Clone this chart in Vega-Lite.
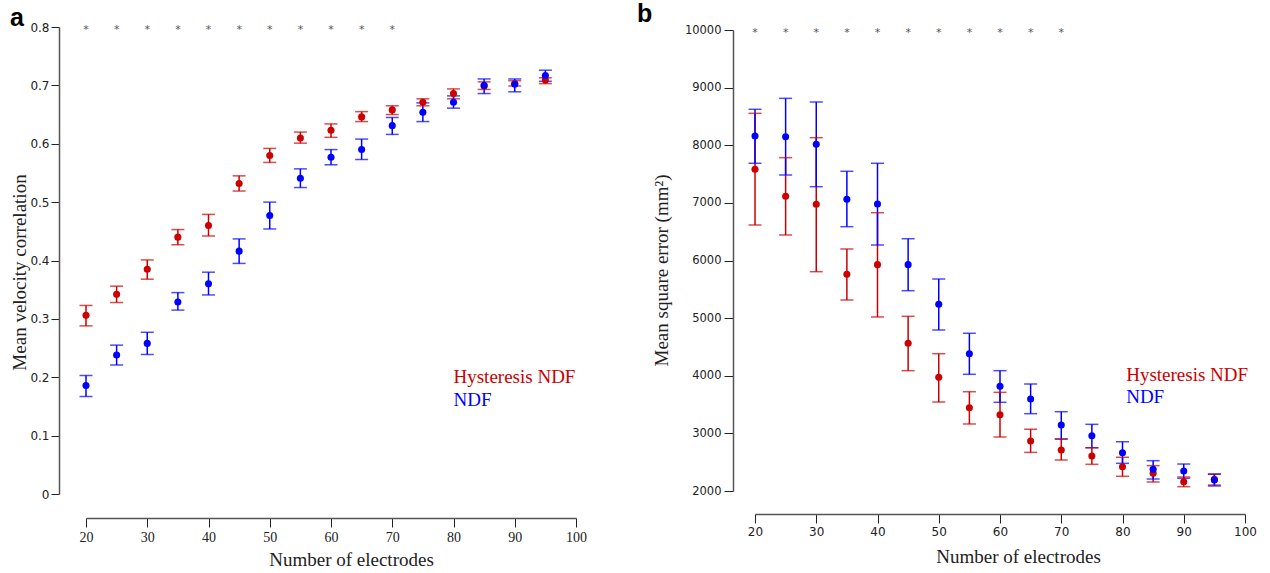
{
  "$schema": "https://vega.github.io/schema/vega-lite/v6.json",
  "padding": {"left": 10, "top": 2, "right": 5, "bottom": 0},
  "background": "white",
  "bounds": "flush",
  "spacing": 179,
  "config": {
    "view": {"stroke": null},
    "axis": {"grid": false, "domainColor": "#555", "domainWidth": 1.5, "tickColor": "#222", "tickWidth": 1, "labelColor": "#222", "titleColor": "#222", "titleFontWeight": "normal"}
  },
  "datasets": {
    "a": [
      {"n": 20, "model": "Hysteresis NDF", "m": 0.306, "lo": 0.288, "hi": 0.323},
      {"n": 25, "model": "Hysteresis NDF", "m": 0.342, "lo": 0.328, "hi": 0.356},
      {"n": 30, "model": "Hysteresis NDF", "m": 0.385, "lo": 0.368, "hi": 0.401},
      {"n": 35, "model": "Hysteresis NDF", "m": 0.440, "lo": 0.427, "hi": 0.453},
      {"n": 40, "model": "Hysteresis NDF", "m": 0.460, "lo": 0.442, "hi": 0.479},
      {"n": 45, "model": "Hysteresis NDF", "m": 0.532, "lo": 0.519, "hi": 0.545},
      {"n": 50, "model": "Hysteresis NDF", "m": 0.580, "lo": 0.568, "hi": 0.592},
      {"n": 55, "model": "Hysteresis NDF", "m": 0.610, "lo": 0.601, "hi": 0.620},
      {"n": 60, "model": "Hysteresis NDF", "m": 0.623, "lo": 0.611, "hi": 0.634},
      {"n": 65, "model": "Hysteresis NDF", "m": 0.646, "lo": 0.638, "hi": 0.655},
      {"n": 70, "model": "Hysteresis NDF", "m": 0.658, "lo": 0.650, "hi": 0.665},
      {"n": 75, "model": "Hysteresis NDF", "m": 0.671, "lo": 0.665, "hi": 0.677},
      {"n": 80, "model": "Hysteresis NDF", "m": 0.686, "lo": 0.677, "hi": 0.694},
      {"n": 85, "model": "Hysteresis NDF", "m": 0.699, "lo": 0.693, "hi": 0.706},
      {"n": 90, "model": "Hysteresis NDF", "m": 0.703, "lo": 0.699, "hi": 0.708},
      {"n": 95, "model": "Hysteresis NDF", "m": 0.709, "lo": 0.703, "hi": 0.713},
      {"n": 20, "model": "NDF", "m": 0.186, "lo": 0.167, "hi": 0.203},
      {"n": 25, "model": "NDF", "m": 0.238, "lo": 0.221, "hi": 0.255},
      {"n": 30, "model": "NDF", "m": 0.258, "lo": 0.239, "hi": 0.277},
      {"n": 35, "model": "NDF", "m": 0.329, "lo": 0.315, "hi": 0.345},
      {"n": 40, "model": "NDF", "m": 0.360, "lo": 0.341, "hi": 0.380},
      {"n": 45, "model": "NDF", "m": 0.416, "lo": 0.395, "hi": 0.437},
      {"n": 50, "model": "NDF", "m": 0.477, "lo": 0.454, "hi": 0.500},
      {"n": 55, "model": "NDF", "m": 0.541, "lo": 0.525, "hi": 0.557},
      {"n": 60, "model": "NDF", "m": 0.577, "lo": 0.564, "hi": 0.590},
      {"n": 65, "model": "NDF", "m": 0.590, "lo": 0.573, "hi": 0.608},
      {"n": 70, "model": "NDF", "m": 0.631, "lo": 0.616, "hi": 0.645},
      {"n": 75, "model": "NDF", "m": 0.654, "lo": 0.638, "hi": 0.670},
      {"n": 80, "model": "NDF", "m": 0.671, "lo": 0.661, "hi": 0.682},
      {"n": 85, "model": "NDF", "m": 0.700, "lo": 0.686, "hi": 0.711},
      {"n": 90, "model": "NDF", "m": 0.702, "lo": 0.689, "hi": 0.711},
      {"n": 95, "model": "NDF", "m": 0.717, "lo": 0.707, "hi": 0.726}
    ],
    "b": [
      {"n": 20, "model": "Hysteresis NDF", "m": 7582, "lo": 6616, "hi": 8554},
      {"n": 25, "model": "Hysteresis NDF", "m": 7114, "lo": 6443, "hi": 7785},
      {"n": 30, "model": "Hysteresis NDF", "m": 6975, "lo": 5806, "hi": 8131},
      {"n": 35, "model": "Hysteresis NDF", "m": 5760, "lo": 5315, "hi": 6200},
      {"n": 40, "model": "Hysteresis NDF", "m": 5928, "lo": 5020, "hi": 6830},
      {"n": 45, "model": "Hysteresis NDF", "m": 4563, "lo": 4088, "hi": 5031},
      {"n": 50, "model": "Hysteresis NDF", "m": 3973, "lo": 3544, "hi": 4383},
      {"n": 55, "model": "Hysteresis NDF", "m": 3446, "lo": 3163, "hi": 3723},
      {"n": 60, "model": "Hysteresis NDF", "m": 3324, "lo": 2937, "hi": 3712},
      {"n": 65, "model": "Hysteresis NDF", "m": 2868, "lo": 2670, "hi": 3072},
      {"n": 70, "model": "Hysteresis NDF", "m": 2711, "lo": 2538, "hi": 2902},
      {"n": 75, "model": "Hysteresis NDF", "m": 2607, "lo": 2463, "hi": 2751},
      {"n": 80, "model": "Hysteresis NDF", "m": 2422, "lo": 2255, "hi": 2585},
      {"n": 85, "model": "Hysteresis NDF", "m": 2307, "lo": 2156, "hi": 2440},
      {"n": 90, "model": "Hysteresis NDF", "m": 2161, "lo": 2075, "hi": 2243},
      {"n": 95, "model": "Hysteresis NDF", "m": 2203, "lo": 2104, "hi": 2290},
      {"n": 20, "model": "NDF", "m": 8160, "lo": 7687, "hi": 8624},
      {"n": 25, "model": "NDF", "m": 8149, "lo": 7484, "hi": 8814},
      {"n": 30, "model": "NDF", "m": 8016, "lo": 7281, "hi": 8751},
      {"n": 35, "model": "NDF", "m": 7062, "lo": 6587, "hi": 7548},
      {"n": 40, "model": "NDF", "m": 6980, "lo": 6269, "hi": 7687},
      {"n": 45, "model": "NDF", "m": 5928, "lo": 5476, "hi": 6378},
      {"n": 50, "model": "NDF", "m": 5240, "lo": 4794, "hi": 5679},
      {"n": 55, "model": "NDF", "m": 4383, "lo": 4025, "hi": 4737},
      {"n": 60, "model": "NDF", "m": 3817, "lo": 3539, "hi": 4088},
      {"n": 65, "model": "NDF", "m": 3597, "lo": 3342, "hi": 3857},
      {"n": 70, "model": "NDF", "m": 3145, "lo": 2902, "hi": 3376},
      {"n": 75, "model": "NDF", "m": 2960, "lo": 2751, "hi": 3157},
      {"n": 80, "model": "NDF", "m": 2665, "lo": 2480, "hi": 2855},
      {"n": 85, "model": "NDF", "m": 2376, "lo": 2208, "hi": 2526},
      {"n": 90, "model": "NDF", "m": 2347, "lo": 2220, "hi": 2468},
      {"n": 95, "model": "NDF", "m": 2191, "lo": 2087, "hi": 2295}
    ],
    "stars": [
      {"n": 20}, {"n": 25}, {"n": 30}, {"n": 35}, {"n": 40}, {"n": 45},
      {"n": 50}, {"n": 55}, {"n": 60}, {"n": 65}, {"n": 70}
    ],
    "legend": [
      {"label": "Hysteresis NDF"}
    ],
    "legend2": [
      {"label": "NDF"}
    ]
  },
  "hconcat": [
    {
      "width": 490,
      "height": 467,
      "title": {"text": "a", "anchor": "start", "frame": "group", "font": "Liberation Sans", "fontSize": 25, "fontWeight": "bold", "color": "#000", "dx": -76, "offset": -30, "baseline": "alphabetic"},
      "layer": [
        {
          "data": {"name": "a"},
          "mark": {"type": "rule", "strokeWidth": 1.5},
          "encoding": {
            "x": {"field": "n", "type": "quantitative",
              "scale": {"domain": [20, 100], "nice": false, "zero": false},
              "axis": {"values": [20, 30, 40, 50, 60, 70, 80, 90, 100], "offset": 24, "tickSize": 9, "labelPadding": 3, "labelFlush": false,
                "labelFont": "Liberation Serif", "labelFontSize": 14,
                "title": "Number of electrodes", "titleFont": "Liberation Serif", "titleFontSize": 19, "titleX": 265, "titlePadding": 6}},
            "y": {"field": "lo", "type": "quantitative",
              "scale": {"domain": [0, 0.8], "nice": false, "zero": false},
              "axis": {"values": [0, 0.1, 0.2, 0.3, 0.4, 0.5, 0.6, 0.7, 0.8], "format": "~g", "offset": 27, "tickSize": 8, "labelPadding": 2, "labelFlush": false,
                "labelFont": "DejaVu Sans", "labelFontSize": 12,
                "title": "Mean velocity correlation", "titleFont": "Liberation Serif", "titleFontSize": 19, "titleY": 245, "titlePadding": 0}},
            "y2": {"field": "hi"},
            "color": {"field": "model", "type": "nominal", "scale": {"domain": ["Hysteresis NDF", "NDF"], "range": ["#cc0000", "#0000ff"]}, "legend": null}
          }
        },
        {
          "data": {"name": "a"},
          "mark": {"type": "tick", "orient": "horizontal", "size": 13, "thickness": 1.5},
          "encoding": {
            "x": {"field": "n", "type": "quantitative"},
            "y": {"field": "lo", "type": "quantitative"},
            "color": {"field": "model", "type": "nominal"}
          }
        },
        {
          "data": {"name": "a"},
          "mark": {"type": "tick", "orient": "horizontal", "size": 13, "thickness": 1.5},
          "encoding": {
            "x": {"field": "n", "type": "quantitative"},
            "y": {"field": "hi", "type": "quantitative"},
            "color": {"field": "model", "type": "nominal"}
          }
        },
        {
          "data": {"name": "a"},
          "mark": {"type": "circle", "size": 50, "opacity": 1},
          "encoding": {
            "x": {"field": "n", "type": "quantitative"},
            "y": {"field": "m", "type": "quantitative"},
            "color": {"field": "model", "type": "nominal"}
          }
        },
        {
          "data": {"name": "stars"},
          "mark": {"type": "text", "text": "*", "font": "DejaVu Sans", "fontSize": 11, "color": "#555", "baseline": "middle", "dy": 3},
          "encoding": {
            "x": {"field": "n", "type": "quantitative"},
            "y": {"datum": 0.8}
          }
        },
        {
          "data": {"name": "legend"},
          "mark": {"type": "text", "font": "Liberation Serif", "fontSize": 19, "color": "#cc0000", "align": "left", "baseline": "middle"},
          "encoding": {"text": {"field": "label"}, "x": {"datum": 80}, "y": {"datum": 0.2}}
        },
        {
          "data": {"name": "legend2"},
          "mark": {"type": "text", "font": "Liberation Serif", "fontSize": 19, "color": "#0000ff", "align": "left", "baseline": "middle"},
          "encoding": {"text": {"field": "label"}, "x": {"datum": 80}, "y": {"datum": 0.161}}
        }
      ]
    },
    {
      "width": 490,
      "height": 464,
      "title": {"text": "b", "anchor": "start", "frame": "group", "font": "Liberation Sans", "fontSize": 25, "fontWeight": "bold", "color": "#000", "dx": -118, "dy": -7, "offset": -30, "baseline": "alphabetic"},
      "layer": [
        {
          "data": {"name": "b"},
          "mark": {"type": "rule", "strokeWidth": 1.5},
          "encoding": {
            "x": {"field": "n", "type": "quantitative",
              "scale": {"domain": [20, 100], "nice": false, "zero": false},
              "axis": {"values": [20, 30, 40, 50, 60, 70, 80, 90, 100], "offset": 23, "tickSize": 9, "labelPadding": 3, "labelFlush": false,
                "labelFont": "DejaVu Sans", "labelFontSize": 12,
                "title": "Number of electrodes", "titleFont": "Liberation Serif", "titleFontSize": 19, "titleX": 263, "titlePadding": 10}},
            "y": {"field": "lo", "type": "quantitative",
              "scale": {"domain": [2000, 10000], "nice": false, "zero": false, "range": [464, 3]},
              "axis": {"values": [2000, 3000, 4000, 5000, 6000, 7000, 8000, 9000, 10000], "format": "d", "offset": 22, "tickSize": 9, "labelPadding": 3, "labelFlush": false,
                "labelFont": "DejaVu Sans", "labelFontSize": 11.5,
                "title": "Mean square error (mm²)", "titleFont": "Liberation Serif", "titleFontSize": 19, "titleY": 243, "titlePadding": 13}},
            "y2": {"field": "hi"},
            "color": {"field": "model", "type": "nominal", "scale": {"domain": ["Hysteresis NDF", "NDF"], "range": ["#cc0000", "#0000ff"]}, "legend": null}
          }
        },
        {
          "data": {"name": "b"},
          "mark": {"type": "tick", "orient": "horizontal", "size": 13, "thickness": 1.5},
          "encoding": {
            "x": {"field": "n", "type": "quantitative"},
            "y": {"field": "lo", "type": "quantitative"},
            "color": {"field": "model", "type": "nominal"}
          }
        },
        {
          "data": {"name": "b"},
          "mark": {"type": "tick", "orient": "horizontal", "size": 13, "thickness": 1.5},
          "encoding": {
            "x": {"field": "n", "type": "quantitative"},
            "y": {"field": "hi", "type": "quantitative"},
            "color": {"field": "model", "type": "nominal"}
          }
        },
        {
          "data": {"name": "b"},
          "mark": {"type": "circle", "size": 50, "opacity": 1},
          "encoding": {
            "x": {"field": "n", "type": "quantitative"},
            "y": {"field": "m", "type": "quantitative"},
            "color": {"field": "model", "type": "nominal"}
          }
        },
        {
          "data": {"name": "stars"},
          "mark": {"type": "text", "text": "*", "font": "DejaVu Sans", "fontSize": 11, "color": "#555", "baseline": "middle", "dy": 3},
          "encoding": {
            "x": {"field": "n", "type": "quantitative"},
            "y": {"datum": 10000}
          }
        },
        {
          "data": {"name": "legend"},
          "mark": {"type": "text", "font": "Liberation Serif", "fontSize": 19, "color": "#cc0000", "align": "left", "baseline": "middle"},
          "encoding": {"text": {"field": "label"}, "x": {"datum": 80.6}, "y": {"datum": 4013}}
        },
        {
          "data": {"name": "legend2"},
          "mark": {"type": "text", "font": "Liberation Serif", "fontSize": 19, "color": "#0000ff", "align": "left", "baseline": "middle"},
          "encoding": {"text": {"field": "label"}, "x": {"datum": 80.6}, "y": {"datum": 3631}}
        }
      ]
    }
  ]
}
